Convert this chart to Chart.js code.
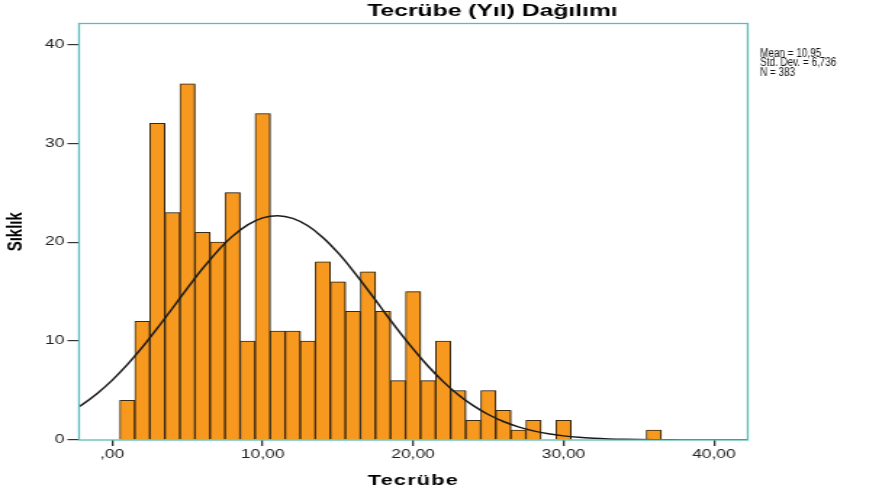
<!DOCTYPE html>
<html><head><meta charset="utf-8">
<script src="https://cdn.jsdelivr.net/npm/chart.js@4"></script>
<style>
html,body{margin:0;padding:0;background:#fff;overflow:hidden;width:895px;height:492px;}
#wrap{position:absolute;left:0;top:0;width:617px;height:492px;transform:scaleX(1.45057);transform-origin:0 0;}
</style></head><body>
<div id="wrap"><canvas id="c"></canvas></div>
<script>
// ---- data ----
const binCenters = [1,2,3,4,5,6,7,8,9,10,11,12,13,14,15,16,17,18,19,20,21,22,23,24,25,26,27,28,29,30,31,32,33,34,35,36];
const frequencies = [4,12,32,23,36,21,20,25,10,33,11,11,10,18,16,13,17,13,6,15,6,10,5,2,5,3,1,2,0,2,0,0,0,0,0,1];
const curveX = [-3,-2,-1,0,1,2,3,4,5,6,7,8,9,10,11,12,13,14,15,16,17,18,19,20,21,22,23,24,25,26,27,28,29,30,31,32,33,34,35,36,37,38,39,40,41,42,43];
const curveY = [2.657,3.574,4.702,6.051,7.618,9.382,11.303,13.319,15.354,17.313,19.098,20.606,21.749,22.455,22.679,22.406,21.654,20.470,18.930,17.123,15.152,13.116,11.105,9.199,7.452,5.906,4.579,3.472,2.575,1.869,1.327,0.921,0.626,0.416,0.270,0.172,0.107,0.065,0.039,0.023,0.013,0.007,0.004,0.002,0.001,0.000,0.000];
const xTickValues = [0,10,20,30,40];
const xTickLabels = [',00','10,00','20,00','30,00','40,00'];
const yTickValues = [0,10,20,30,40];
const titleText = 'Tecrübe (Yıl) Dağılımı';
const xTitle = 'Tecrübe';
const yTitle = 'Sıklık';
const statsLines = ['Mean = 10,95','Std. Dev. = 6,736','N = 383'];

const TEAL = '#5cbcbc';
const FONT = "'Liberation Sans', Arial, sans-serif";

const decor = {
  id: 'decor',
  beforeDatasetDraw(chart, args) {
    if (args.meta.type === 'bar') {
      const ctx = chart.ctx;
      ctx.save();
      ctx.shadowColor = 'rgba(0,0,0,0.28)';
      ctx.shadowOffsetX = 1.2;
      ctx.shadowOffsetY = 0;
      ctx.shadowBlur = 0.5;
    }
  },
  afterDatasetDraw(chart, args) {
    if (args.meta.type === 'bar') chart.ctx.restore();
  },
  afterDatasetsDraw(chart) {
    const {ctx, chartArea: a} = chart;
    ctx.save();
    ctx.strokeStyle = TEAL;
    ctx.lineWidth = 1.3;
    ctx.strokeRect(a.left, a.top, a.right - a.left, a.bottom - a.top);
    ctx.restore();
  },
  afterDraw(chart) {
    const {ctx, chartArea: a} = chart;
    ctx.save();
    ctx.fillStyle = '#000';
    // title
    ctx.font = 'bold 17px ' + FONT;
    ctx.textAlign = 'center';
    ctx.textBaseline = 'alphabetic';
    ctx.fillText(titleText, 339.5, 16);
    // x title
    ctx.font = 'bold 15px ' + FONT;
    try { ctx.letterSpacing = '0.8px'; } catch(e) {}
    ctx.fillText(xTitle, (a.left + a.right) / 2, 485);
    try { ctx.letterSpacing = '0px'; } catch(e) {}
    // y title
    ctx.save();
    ctx.translate(11, (a.top + a.bottom) / 2);
    ctx.rotate(-Math.PI / 2);
    ctx.font = 'bold 15px ' + FONT;
    ctx.textBaseline = 'middle';
    ctx.fillText(yTitle, 0, 0);
    ctx.restore();
    // stats
    const sx = 0.57;
    ctx.save();
    ctx.translate(524, 0);
    ctx.scale(sx, 1);
    ctx.font = '12px ' + FONT;
    ctx.textAlign = 'left';
    ctx.fillStyle = '#111';
    const bl = [56.5, 66, 75.5];
    statsLines.forEach((t, i) => ctx.fillText(t, 0, bl[i]));
    ctx.restore();
    ctx.restore();
  }
};

new Chart(document.getElementById('c'), {
  type: 'bar',
  data: {
    datasets: [
      {
        type: 'line',
        data: curveX.map((x, i) => ({x: x, y: curveY[i]})),
        borderColor: '#1a1a1a',
        borderWidth: 1.5,
        pointRadius: 0,
        fill: false,
        cubicInterpolationMode: 'monotone',
        order: 0
      },
      {
        type: 'bar',
        data: binCenters.map((x, i) => ({x: x, y: frequencies[i]})),
        backgroundColor: '#f7981f',
        borderColor: '#3a2c14',
        borderWidth: 1,
        borderSkipped: 'bottom',
        barPercentage: 1,
        categoryPercentage: 1,
        order: 1
      }
    ]
  },
  options: {
    responsive: true,
    maintainAspectRatio: false,
    animation: false,
    events: [],
    layout: {padding: {left: 0, right: 101.5, top: 23.5, bottom: 0}},
    plugins: {legend: {display: false}, tooltip: {enabled: false}, title: {display: false}},
    scales: {
      x: {
        type: 'linear',
        min: -2.21,
        max: 42.25,
        offset: false,
        grid: {offset: false, drawOnChartArea: false, drawTicks: true, tickLength: 6, color: '#333', lineWidth: 1.3},
        border: {display: false},
        afterBuildTicks(scale) { scale.ticks = xTickValues.map(v => ({value: v})); },
        afterFit(scale) { scale.height = 52; },
        ticks: {
          autoSkip: false,
          maxRotation: 0,
          padding: 1,
          color: '#222',
          font: {family: FONT, size: 12},
          callback: (v) => xTickLabels[xTickValues.indexOf(v)]
        }
      },
      y: {
        type: 'linear',
        min: 0,
        max: 42.1,
        grid: {drawOnChartArea: false, drawTicks: true, tickLength: 8, color: '#333', lineWidth: 1.2},
        border: {display: false},
        afterBuildTicks(scale) { scale.ticks = yTickValues.map(v => ({value: v})); },
        afterFit(scale) { scale.width = 54.46; },
        ticks: {
          padding: 2,
          color: '#222',
          font: {family: FONT, size: 12},
          callback: (v) => String(v)
        }
      }
    }
  },
  plugins: [decor]
});
</script>
</body></html>
